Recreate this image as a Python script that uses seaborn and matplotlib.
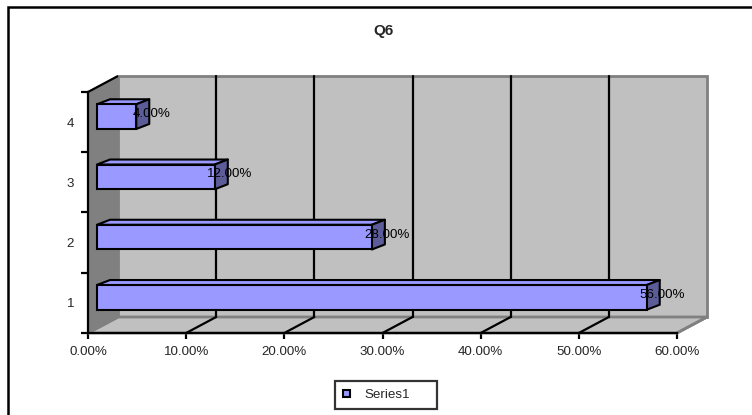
import matplotlib
matplotlib.use("Agg")
import matplotlib.pyplot as plt
from matplotlib.patches import Polygon, Patch, Rectangle
import seaborn as sns
import pandas as pd

# ---- chart data -------------------------------------------------------
categories = ["4", "3", "2", "1"]
shares = [0.04, 0.12, 0.28, 0.56]
x_ticks = [0.0, 0.1, 0.2, 0.3, 0.4, 0.5, 0.6]
x_tick_labels = ["0.00%", "10.00%", "20.00%", "30.00%", "40.00%", "50.00%", "60.00%"]
series_name = "Series1"
chart_title = "Q6"

df = pd.DataFrame({"category": categories, "share": shares})

# ---- style ------------------------------------------------------------
sns.set_theme(style="white")
plt.rcParams["font.family"] = ["Liberation Sans", "DejaVu Sans"]
FS = 9.6

BAR_FACE = "#9999FF"
BAR_TOP = "#9999FF"
BAR_SIDE = "#5C5C99"
WALL = "#C0C0C0"
SIDE_WALL = "#808080"
EDGE_GRAY = "#808080"

W, H = 752, 415
fig = plt.figure(figsize=(W / 100, H / 100), dpi=100)
fig.patch.set_facecolor("white")

# front plane of the 3-D box
ax = fig.add_axes([88 / W, 1 - 333 / H, 589 / W, 241 / H])

sns.barplot(data=df, y="category", x="share", order=categories, orient="h",
            color=BAR_FACE, saturation=1, width=0.41, edgecolor="black",
            linewidth=1.5, ax=ax, zorder=5)

ax.set_xlim(0, 0.6)
ax.set_ylim(3.5, -0.5)
ax.set_xlabel("")
ax.set_ylabel("")
ax.patch.set_visible(False)

# data units per screen pixel (y axis is inverted: up = negative)
ux = 0.6 / ax.bbox.width
uy = 4.0 / ax.bbox.height


def shift(x, y, dx, dy):
    """Move a data point dx pixels right and dy pixels up."""
    return (x + dx * ux, y - dy * uy)


DEPTH = (30, 16)       # full depth of the box
BAR_FRONT = (9, 5.5)   # depth at which the bar fronts sit
BAR_DEPTH = (13, 5)    # thickness of each bar

x0, x1 = 0.0, 0.6
ytop, ybot = -0.5, 3.5

# back wall
back = [shift(x0, ytop, *DEPTH), shift(x1, ytop, *DEPTH),
        shift(x1, ybot, *DEPTH), shift(x0, ybot, *DEPTH)]
ax.add_patch(Polygon(back, closed=True, facecolor=WALL, edgecolor=EDGE_GRAY,
                     lw=2, clip_on=False, zorder=0.5))
# left side wall
side = [(x0, ytop), shift(x0, ytop, *DEPTH), shift(x0, ybot, *DEPTH), (x0, ybot)]
ax.add_patch(Polygon(side, closed=True, facecolor=SIDE_WALL, edgecolor=EDGE_GRAY,
                     lw=1, clip_on=False, zorder=0.6))
ax.plot(*zip((x0, ytop), shift(x0, ytop, *DEPTH)), color="black", lw=1.6,
        clip_on=False, zorder=0.7, solid_capstyle="butt")
# floor
floor = [(x0, ybot), (x1, ybot), shift(x1, ybot, *DEPTH), shift(x0, ybot, *DEPTH)]
ax.add_patch(Polygon(floor, closed=True, facecolor=WALL, edgecolor=EDGE_GRAY,
                     lw=2, clip_on=False, zorder=0.6))

# gridlines on the back wall and their depth lines across the floor
for t in x_ticks:
    inner = 0 < t < x1
    col = "black" if inner else EDGE_GRAY
    lw = 1.6 if inner else 2
    if inner:
        ax.plot(*zip(shift(t, ytop, *DEPTH), shift(t, ybot, *DEPTH)),
                color="black", lw=1.6, clip_on=False, zorder=0.8)
    ax.plot(*zip((t, ybot), shift(t, ybot, *DEPTH)), color=col, lw=lw,
            clip_on=False, zorder=0.8)

# turn the flat bars into boxes
for p in ax.patches:
    if not isinstance(p, Rectangle) or p.get_width() <= 0 or p.get_zorder() != 5:
        continue
    fx, fy = shift(p.get_x(), p.get_y(), *BAR_FRONT)
    p.set_x(fx)
    p.set_y(fy)
    w, h = p.get_width(), p.get_height()
    l, r, t, b = fx, fx + w, fy, fy + h
    top_face = [(l, t), (r, t), shift(r, t, *BAR_DEPTH), shift(l, t, *BAR_DEPTH)]
    side_face = [(r, t), (r, b), shift(r, b, *BAR_DEPTH), shift(r, t, *BAR_DEPTH)]
    ax.add_patch(Polygon(top_face, closed=True, facecolor=BAR_TOP,
                         edgecolor="black", lw=1.5, joinstyle="round",
                         clip_on=False, zorder=4))
    ax.add_patch(Polygon(side_face, closed=True, facecolor=BAR_SIDE,
                         edgecolor="black", lw=1.5, joinstyle="round",
                         clip_on=False, zorder=4))
    p.set_clip_on(False)

# value labels
for i, v in enumerate(shares):
    ax.annotate(f"{v:.2%}", xy=(v, i), xytext=(24, 8), textcoords="offset pixels",
                ha="center", va="center", fontsize=FS, color="black",
                zorder=7, annotation_clip=False)

# axes, ticks and labels
for name, sp in ax.spines.items():
    sp.set_visible(name in ("left", "bottom"))
    sp.set_color("black")
    sp.set_linewidth(1.6)
    sp.set_zorder(1)

ax.set_xticks(x_ticks)
ax.set_xticklabels(x_tick_labels, fontsize=FS)
ax.tick_params(axis="x", direction="out", length=4, width=1.6, color="black",
               pad=5, bottom=True)
ax.set_yticks(range(len(categories)))
ax.set_yticklabels(categories, fontsize=FS)
ax.set_yticks([-0.5, 0.5, 1.5, 2.5, 3.5], minor=True)
ax.tick_params(axis="y", which="major", length=0, pad=10, left=False)
ax.tick_params(axis="y", which="minor", direction="out", length=5, width=1.6,
               color="black", left=True)
ax.grid(False)

# title
fig.text(383 / W, 1 - 31 / H, chart_title, ha="center", va="center",
         fontsize=11, fontweight="bold")

# legend
handle = Patch(facecolor=BAR_FACE, edgecolor="black", linewidth=1.5)
leg = ax.legend([handle], [series_name], loc="center",
                bbox_to_anchor=(335 / W, 1 - 410 / H, 102 / W, 30 / H),
                bbox_transform=fig.transFigure, mode="expand",
                frameon=True, fancybox=False, fontsize=FS,
                handlelength=0.5, handleheight=0.45, handletextpad=1.1,
                borderpad=0.6, borderaxespad=0)
leg.get_frame().set_edgecolor("black")
leg.get_frame().set_linewidth(1.6)

# chart border
fig.patches.append(Rectangle((8 / W, -0.1), 1.2, 1.1 - 7.5 / H,
                             transform=fig.transFigure, fill=False,
                             edgecolor="black", lw=1.8))

fig.savefig("out.png", dpi=100)
